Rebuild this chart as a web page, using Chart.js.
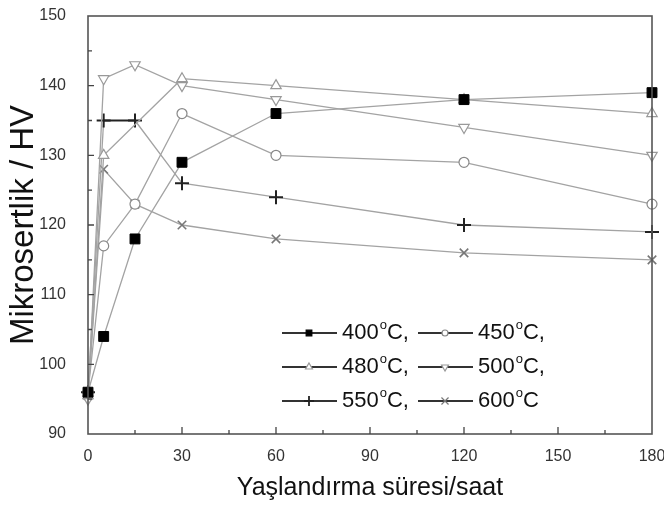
<!DOCTYPE html>
<html>
<head>
<meta charset="utf-8">
<script src="https://cdn.jsdelivr.net/npm/chart.js@4/dist/chart.umd.min.js"></script>
<style>
  html, body { margin: 0; padding: 0; background: #fff; }
  #wrap { width: 664px; height: 506px; }
</style>
</head>
<body>
<div id="wrap"><canvas id="chart"></canvas></div>
<script>
// aging time (hours) and microhardness (HV) per aging temperature
const hours = [0, 5, 15, 30, 60, 120, 180];
const hv400 = [96, 104, 118, 129, 136, 138, 139];
const hv450 = [96, 117, 123, 136, 130, 129, 123];
const hv480 = [95.5, 130, null, 141, 140, 138, 136];
const hv500 = [95, 141, 143, 140, 138, 134, 130];
const hv550 = [96, 135, 135, 126, 124, 120, 119];
const hv600 = [95.5, 128, 123, 120, 118, 116, 115];
const temps = ["400", "450", "480", "500", "550", "600"];
const xTicks = [0, 30, 60, 90, 120, 150, 180];
const yTicks = [90, 100, 110, 120, 130, 140, 150];

const FONT = "'Liberation Sans', Arial, sans-serif";
const LINE = "#a3a3a3";

const toPoints = vals => hours.map((h, i) => ({ x: h, y: vals[i] })).filter(p => p.y !== null);

// marker look per series
const marks = [
  { style: "rect",     radius: 7, fill: "#000",  stroke: "#000",  width: 1,   rot: 0,   lr: 4,   lfill: "#000" },
  { style: "circle",   radius: 5, fill: "#fff",  stroke: "#888",  width: 1.2, rot: 0,   lr: 3,   lfill: "#fff" },
  { style: "triangle", radius: 6, fill: "#fff",  stroke: "#999",  width: 1.2, rot: 0,   lr: 4,   lfill: "#fff" },
  { style: "triangle", radius: 6, fill: "#fff",  stroke: "#999",  width: 1.2, rot: 180, lr: 4,   lfill: "#fff" },
  { style: "cross",    radius: 7, fill: "#000",  stroke: "#222",  width: 2,   rot: 0,   lr: 5,   lfill: "#000" },
  { style: "crossRot", radius: 6, fill: "#777",  stroke: "#777",  width: 1.6, rot: 0,   lr: 5,   lfill: "#777" }
];

const series = [hv400, hv450, hv480, hv500, hv550, hv600];

const datasets = series.map((vals, i) => ({
  label: temps[i] + "°C",
  data: toPoints(vals),
  borderColor: LINE,
  borderWidth: 1.3,
  pointStyle: marks[i].style,
  pointRadius: marks[i].radius,
  pointRotation: marks[i].rot,
  pointBackgroundColor: marks[i].fill,
  pointBorderColor: marks[i].stroke,
  pointBorderWidth: marks[i].width,
  spanGaps: true,
  tension: 0,
  clip: false
}));

// the flat 550 stretch shows up dark in the original
datasets[4].segment = {
  borderColor: c => c.p0.parsed.y === c.p1.parsed.y ? "#222" : undefined,
  borderWidth: c => c.p0.parsed.y === c.p1.parsed.y ? 2 : undefined
};

// frame, inside ticks and the 3x2 legend
const decor = {
  id: "decor",
  afterDraw(chart) {
    const { ctx, chartArea: a, scales: { x, y } } = chart;
    ctx.save();
    ctx.strokeStyle = "#555";
    ctx.lineWidth = 1.6;
    ctx.strokeRect(a.left, a.top, a.right - a.left, a.bottom - a.top);

    ctx.lineWidth = 1.3;
    ctx.strokeStyle = "#444";
    ctx.beginPath();
    for (let v = 15; v < 180; v += 15) {
      const px = x.getPixelForValue(v);
      const len = v % 30 === 0 ? 7 : 4;
      ctx.moveTo(px, a.bottom);
      ctx.lineTo(px, a.bottom - len);
    }
    for (let v = 95; v < 150; v += 5) {
      const py = y.getPixelForValue(v);
      const len = v % 10 === 0 ? 6 : 4;
      ctx.moveTo(a.left, py);
      ctx.lineTo(a.left + len, py);
    }
    ctx.stroke();

    // legend
    const cols = [282, 418];
    const rows = [333, 367, 401];
    temps.forEach((t, i) => {
      const lx = cols[i % 2], ly = rows[Math.floor(i / 2)];
      const m = marks[i];
      ctx.strokeStyle = "#333";
      ctx.lineWidth = 1.8;
      ctx.beginPath();
      ctx.moveTo(lx, ly);
      ctx.lineTo(lx + 55, ly);
      ctx.stroke();
      ctx.fillStyle = m.lfill;
      ctx.strokeStyle = m.stroke;
      ctx.lineWidth = m.style === "cross" ? 1.8 : 1.2;
      Chart.helpers.drawPoint(ctx, { pointStyle: m.style, radius: m.lr, rotation: m.rot, borderWidth: ctx.lineWidth }, lx + 27, ly);

      let tx = lx + 60;
      ctx.fillStyle = "#111";
      ctx.textBaseline = "middle";
      ctx.textAlign = "left";
      ctx.font = "22px " + FONT;
      ctx.fillText(t, tx, ly);
      tx += ctx.measureText(t).width + 1;
      ctx.font = "13px " + FONT;
      ctx.fillText("o", tx, ly - 8);
      tx += ctx.measureText("o").width;
      ctx.font = "22px " + FONT;
      ctx.fillText(i === 5 ? "C" : "C,", tx, ly);
    });
    ctx.restore();
  }
};

new Chart(document.getElementById("chart"), {
  type: "line",
  data: { datasets },
  options: {
    responsive: true,
    maintainAspectRatio: false,
    animation: false,
    layout: { padding: { top: 16, right: 12, left: 0, bottom: 0 } },
    plugins: { legend: { display: false }, tooltip: { enabled: false } },
    scales: {
      x: {
        type: "linear",
        min: 0, max: 180,
        grid: { display: false },
        border: { display: false },
        afterBuildTicks: s => { s.ticks = xTicks.map(v => ({ value: v })); },
        afterFit: s => { s.height = 72; s.paddingLeft = 0; s.paddingRight = 0; },
        ticks: { color: "#333", padding: 5, maxRotation: 0, font: { family: FONT, size: 16 } },
        title: { display: true, text: "Yaşlandırma süresi/saat", color: "#111", padding: { top: 0, bottom: 3 }, font: { family: FONT, size: 25 } }
      },
      y: {
        min: 90, max: 150,
        grid: { display: false },
        border: { display: false },
        afterBuildTicks: s => { s.ticks = yTicks.map(v => ({ value: v })); },
        afterFit: s => { s.width = 88; s.paddingTop = 0; s.paddingBottom = 0; },
        ticks: { color: "#333", padding: 14, font: { family: FONT, size: 16 } },
        title: { display: true, text: "Mikrosertlik / HV", color: "#111", padding: { top: 4, bottom: 0 }, font: { family: FONT, size: 33 } }
      }
    }
  },
  plugins: [decor]
});
</script>
</body>
</html>
